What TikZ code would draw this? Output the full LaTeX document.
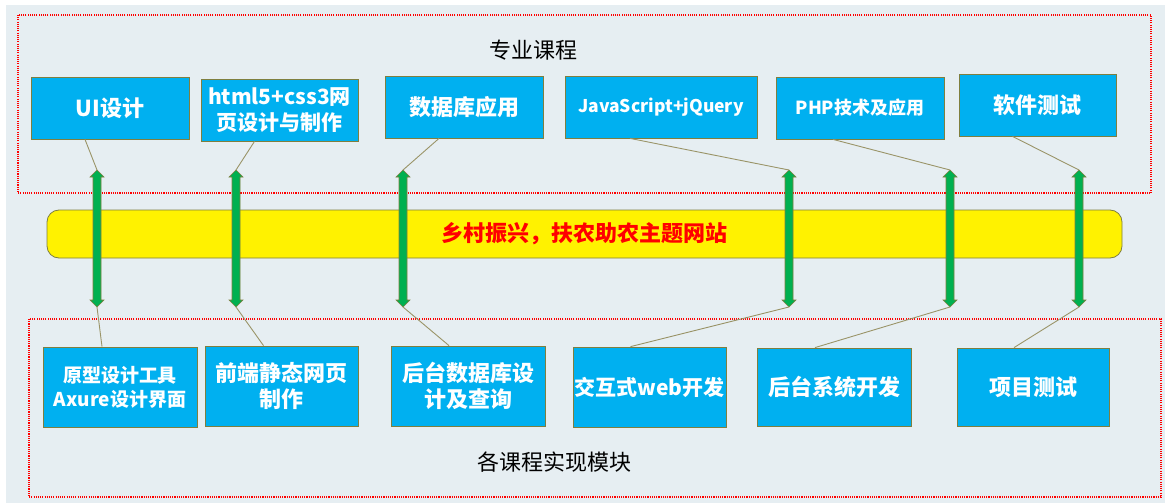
\documentclass[tikz,border=0pt]{standalone}
\usepackage{fontspec}
\setmainfont{Noto Sans CJK SC}
\usepackage{tikz}
\usetikzlibrary{positioning}
\usepackage{xcolor}
\definecolor{bgcol}{HTML}{E6EEF2}
\definecolor{boxblue}{HTML}{00B0F0}
\definecolor{olivedge}{HTML}{7F7F3F}
\definecolor{linkline}{HTML}{9A9468}
\definecolor{arrowgreen}{HTML}{00B050}
\tikzset{
  course/.style={draw=olivedge, fill=boxblue, text=white, font=\bfseries\fontsize{22}{26}\selectfont, align=center, inner sep=0pt, line width=0.8pt},
  frame/.style={draw=red, line width=1.2pt, dash pattern=on 1.1pt off 1.1pt},
  link/.style={draw=linkline, line width=0.9pt},
  twoway/.style={fill=arrowgreen, draw=olivedge, line width=0.6pt},
  caption/.style={font=\fontsize{22}{26}\selectfont}
}

\begin{document}
\begin{tikzpicture}[x=1pt, y=-1pt]
\useasboundingbox (0,0) rectangle (1165,503);
\fill[bgcol] (6,5) rectangle (1165,503);

% frames
\draw[frame] (18,15) rectangle (1151,193);
\draw[frame] (29,319) rectangle (1161,497);
\node[caption] (major) at (533,50) {专业课程};
\node[caption] (modules) at (554,462) {各课程实现模块};

% theme band
\node[draw=olivedge, fill=yellow, rounded corners=12pt, minimum width=1075pt, minimum height=48pt, line width=0.8pt, text=red, font=\bfseries\fontsize{22}{26}\selectfont] (theme) at (584.5,234) {乡村振兴，扶农助农主题网站};

% courses
\node[course, minimum width=158pt, minimum height=62pt] (T1) at (110,108) {UI设计};
\node[course, minimum width=157pt, minimum height=62pt, font=\bfseries\fontsize{21}{26}\selectfont] (T2) at (279.5,110) {html5+css3网\\页设计与制作};
\node[course, minimum width=158pt, minimum height=62pt] (T3) at (464,107) {数据库应用};
\node[course, minimum width=192pt, minimum height=62pt, font=\bfseries\fontsize{17.5}{20}\selectfont] (T4) at (661,107) {JavaScript+jQuery};
\node[course, minimum width=168pt, minimum height=62pt, font=\bfseries\fontsize{18}{22}\selectfont] (T5) at (860,108) {PHP技术及应用};
\node[course, minimum width=157pt, minimum height=62pt] (T6) at (1037.5,105) {软件测试};

% modules
\node[course, minimum width=154pt, minimum height=80pt, font=\bfseries\fontsize{19}{24}\selectfont] (B1) at (120,387) {原型设计工具\\Axure设计界面};
\node[course, minimum width=153pt, minimum height=80pt] (B2) at (281.5,386) {前端静态网页\\制作};
\node[course, minimum width=154pt, minimum height=80pt] (B3) at (468,386) {后台数据库设\\计及查询};
\node[course, minimum width=153pt, minimum height=80pt, font=\bfseries\fontsize{21}{26}\selectfont] (B4) at (649.5,387) {交互式web开发};
\node[course, minimum width=154pt, minimum height=78pt] (B5) at (834,387) {后台系统开发};
\node[course, minimum width=152pt, minimum height=78pt] (B6) at (1033,387) {项目测试};

% arrows
\foreach \x [count=\i] in {97,236,403,789,950,1079} {
  \draw[twoway] (\x-4,177) -- (\x-7,177) -- (\x,170) -- (\x+7,177) -- (\x+4,177) -- (\x+4,300) -- (\x+7,300) -- (\x,307) -- (\x-7,300) -- (\x-4,300) -- cycle;
  \coordinate (up\i) at (\x,170);
  \coordinate (dn\i) at (\x,307);
}

% links
\draw[link] ([xshift=-25pt]T1.south) -- (up1);
\draw[link] ([xshift=-25pt]T2.south) -- (up2);
\draw[link] ([xshift=-25pt]T3.south) -- (up3);
\draw[link] ([xshift=-31pt]T4.south) -- (up4);
\draw[link] ([xshift=-27pt]T5.south) -- (up5);
\draw[link] ([xshift=-25pt]T6.south) -- (up6);
\draw[link] (dn1) -- ([xshift=-18pt]B1.north);
\draw[link] (dn2) -- ([xshift=-18pt]B2.north);
\draw[link] (dn3) -- ([xshift=-19pt]B3.north);
\draw[link] (dn4) -- ([xshift=-19pt]B4.north);
\draw[link] (dn5) -- ([xshift=-19pt]B5.north);
\draw[link] (dn6) -- ([xshift=-19pt]B6.north);
\end{tikzpicture}
\end{document}
